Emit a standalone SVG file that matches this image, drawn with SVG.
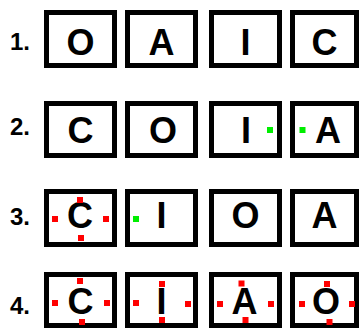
<svg xmlns="http://www.w3.org/2000/svg" width="362" height="329" viewBox="0 0 362 329">
  <style>
    .box { fill: #ffffff; stroke: #000000; stroke-width: 5; }
    .num { font-family: "Liberation Sans", Arial, sans-serif; font-weight: bold; font-size: 24px; fill: #000000; }
    .let { font-family: "Liberation Sans", Arial, sans-serif; font-weight: bold; font-size: 36px; fill: #000000; text-anchor: middle; }
    .red { fill: #ff0000; }
    .grn { fill: #00ee00; }
  </style>
  <rect width="362" height="329" fill="#ffffff"/>

  <!-- row 1 -->
  <g id="row1">
    <text class="num" x="10" y="50">1.</text>
    <g id="r1c1"><rect class="box" x="46.5" y="12.5" width="68" height="53"/><text class="let" x="80.5" y="55">O</text></g>
    <g id="r1c2"><rect class="box" x="127.5" y="12.5" width="68" height="53"/><text class="let" x="161.5" y="55">A</text></g>
    <g id="r1c3"><rect class="box" x="211.5" y="12.5" width="68" height="53"/><text class="let" x="245.5" y="55">I</text></g>
    <g id="r1c4"><rect class="box" x="292.5" y="12.5" width="64" height="53"/><text class="let" x="324.5" y="55">C</text></g>
  </g>

  <!-- row 2 -->
  <g id="row2">
    <text class="num" x="10" y="135">2.</text>
    <g id="r2c1"><rect class="box" x="46.5" y="103.5" width="68" height="52"/><text class="let" x="80.5" y="143">C</text></g>
    <g id="r2c2"><rect class="box" x="127.5" y="103.5" width="68" height="52"/><text class="let" x="163" y="143">O</text></g>
    <g id="r2c3"><rect class="box" x="211.5" y="103.5" width="68" height="52"/><text class="let" x="246" y="143">I</text>
      <rect class="grn" x="267" y="127" width="6" height="6"/></g>
    <g id="r2c4"><rect class="box" x="292.5" y="103.5" width="64" height="52"/><text class="let" x="328" y="143">A</text>
      <rect class="grn" x="299.5" y="127" width="6" height="6"/></g>
  </g>

  <!-- row 3 -->
  <g id="row3">
    <text class="num" x="10" y="225">3.</text>
    <g id="r3c1"><rect class="box" x="46.5" y="191.5" width="68" height="53"/><text class="let" x="80" y="228">C</text>
      <rect class="red" x="77" y="197" width="6" height="6"/>
      <rect class="red" x="52" y="216" width="6" height="6"/>
      <rect class="red" x="103" y="216" width="6" height="6"/>
      <rect class="red" x="78" y="235" width="6" height="6"/></g>
    <g id="r3c2"><rect class="box" x="127.5" y="191.5" width="68" height="53"/><text class="let" x="161.5" y="228">I</text>
      <rect class="grn" x="133" y="216" width="6" height="6"/></g>
    <g id="r3c3"><rect class="box" x="211.5" y="191.5" width="68" height="53"/><text class="let" x="245.5" y="228">O</text></g>
    <g id="r3c4"><rect class="box" x="292.5" y="191.5" width="64" height="53"/><text class="let" x="324.5" y="228">A</text></g>
  </g>

  <!-- row 4 -->
  <g id="row4">
    <text class="num" x="10" y="314">4.</text>
    <g id="r4c1"><rect class="box" x="46.5" y="274.5" width="68" height="51"/><text class="let" x="80.5" y="314">C</text>
      <rect class="red" x="77" y="278" width="6" height="6"/>
      <rect class="red" x="52" y="300" width="6" height="6"/>
      <rect class="red" x="104" y="300" width="6" height="6"/>
      <rect class="red" x="79" y="319" width="6" height="6"/></g>
    <g id="r4c2"><rect class="box" x="127.5" y="274.5" width="68" height="51"/><text class="let" x="161.5" y="314">I</text>
      <rect class="red" x="133" y="300" width="6" height="6"/>
      <rect class="red" x="159" y="281" width="6" height="6"/>
      <rect class="red" x="159" y="317" width="6" height="6"/>
      <rect class="red" x="185" y="301" width="6" height="6"/></g>
    <g id="r4c3"><rect class="box" x="211.5" y="274.5" width="68" height="51"/><text class="let" x="244.5" y="314">A</text>
      <rect class="red" x="238.5" y="280.5" width="6" height="6"/>
      <rect class="red" x="217" y="301" width="6" height="6"/>
      <rect class="red" x="268" y="301" width="6" height="6"/>
      <rect class="red" x="242.5" y="317" width="6" height="6"/></g>
    <g id="r4c4"><rect class="box" x="292.5" y="274.5" width="64" height="51"/><text class="let" x="326" y="314">O</text>
      <rect class="red" x="324" y="281" width="6" height="6"/>
      <rect class="red" x="299" y="301" width="6" height="6"/>
      <rect class="red" x="349" y="301" width="6" height="6"/>
      <rect class="red" x="326.5" y="319" width="6" height="6"/></g>
  </g>
</svg>
